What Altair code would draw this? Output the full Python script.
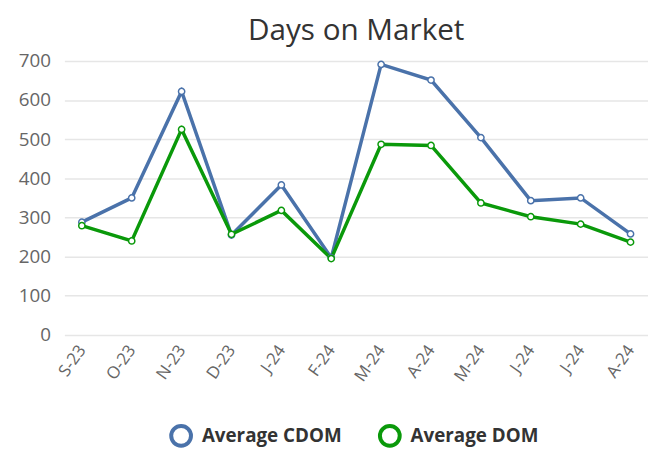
import altair as alt
import pandas as pd

keys = ["2023-09", "2023-10", "2023-11", "2023-12", "2024-01", "2024-02",
        "2024-03", "2024-04", "2024-05", "2024-06", "2024-07", "2024-08"]
labels = ["S-23", "O-23", "N-23", "D-23", "J-24", "F-24",
          "M-24", "A-24", "M-24", "J-24", "J-24", "A-24"]
cdom = [288, 350, 622, 255, 383, 197, 691, 651, 504, 343, 350, 258]
dom = [279, 240, 525, 257, 318, 195, 487, 484, 337, 302, 283, 237]

series = ["Average CDOM", "Average DOM"]
colors = ["#4a72aa", "#0a990a"]

rows = []
for k, c, d in zip(keys, cdom, dom):
    rows.append({"month": k, "series": series[0], "value": c})
    rows.append({"month": k, "series": series[1], "value": d})
df = pd.DataFrame(rows)

label_map = "{" + ",".join(f"'{k}':'{l}'" for k, l in zip(keys, labels)) + "}"

chart = alt.Chart(df).mark_line(
    strokeWidth=3.5,
    point=alt.OverlayMarkDef(filled=False, fill="white", size=40, strokeWidth=1.5),
).encode(
    x=alt.X("month:O", sort=keys, title=None,
            scale=alt.Scale(padding=0.35),
            axis=alt.Axis(labelExpr=f"{label_map}[datum.value]", labelAngle=-55,
                          labelFontSize=17, labelColor="#666666", labelFont="Open Sans",
                          ticks=False, domain=False, grid=False, labelPadding=12)),
    y=alt.Y("value:Q", title=None,
            scale=alt.Scale(domain=[0, 700]),
            axis=alt.Axis(values=[0, 100, 200, 300, 400, 500, 600, 700],
                          labelFontSize=19, labelColor="#666666", labelFont="Open Sans",
                          ticks=False, domain=False, gridColor="#e6e6e6",
                          gridWidth=1.5, labelPadding=14)),
    color=alt.Color("series:N", sort=series,
                    scale=alt.Scale(domain=series, range=colors),
                    legend=alt.Legend(title=None, orient="none", direction="horizontal",
                                      legendX=106, legendY=367,
                                      symbolType="circle", symbolSize=400,
                                      symbolStrokeWidth=4, symbolFillColor="white",
                                      labelFontSize=19, labelFontWeight="bold",
                                      labelColor="#333333", labelFont="Open Sans",
                                      labelOffset=9, columnPadding=30)),
).properties(
    width=590,
    height=277,
    title=alt.TitleParams("Days on Market", fontSize=30, font="Open Sans",
                          fontWeight="normal", color="#333333", offset=6),
    padding={"left": 10, "top": 6, "right": 0, "bottom": 5},
).configure_view(stroke=None)

chart.save("out.html", embed_options={"renderer": "svg", "actions": False})
